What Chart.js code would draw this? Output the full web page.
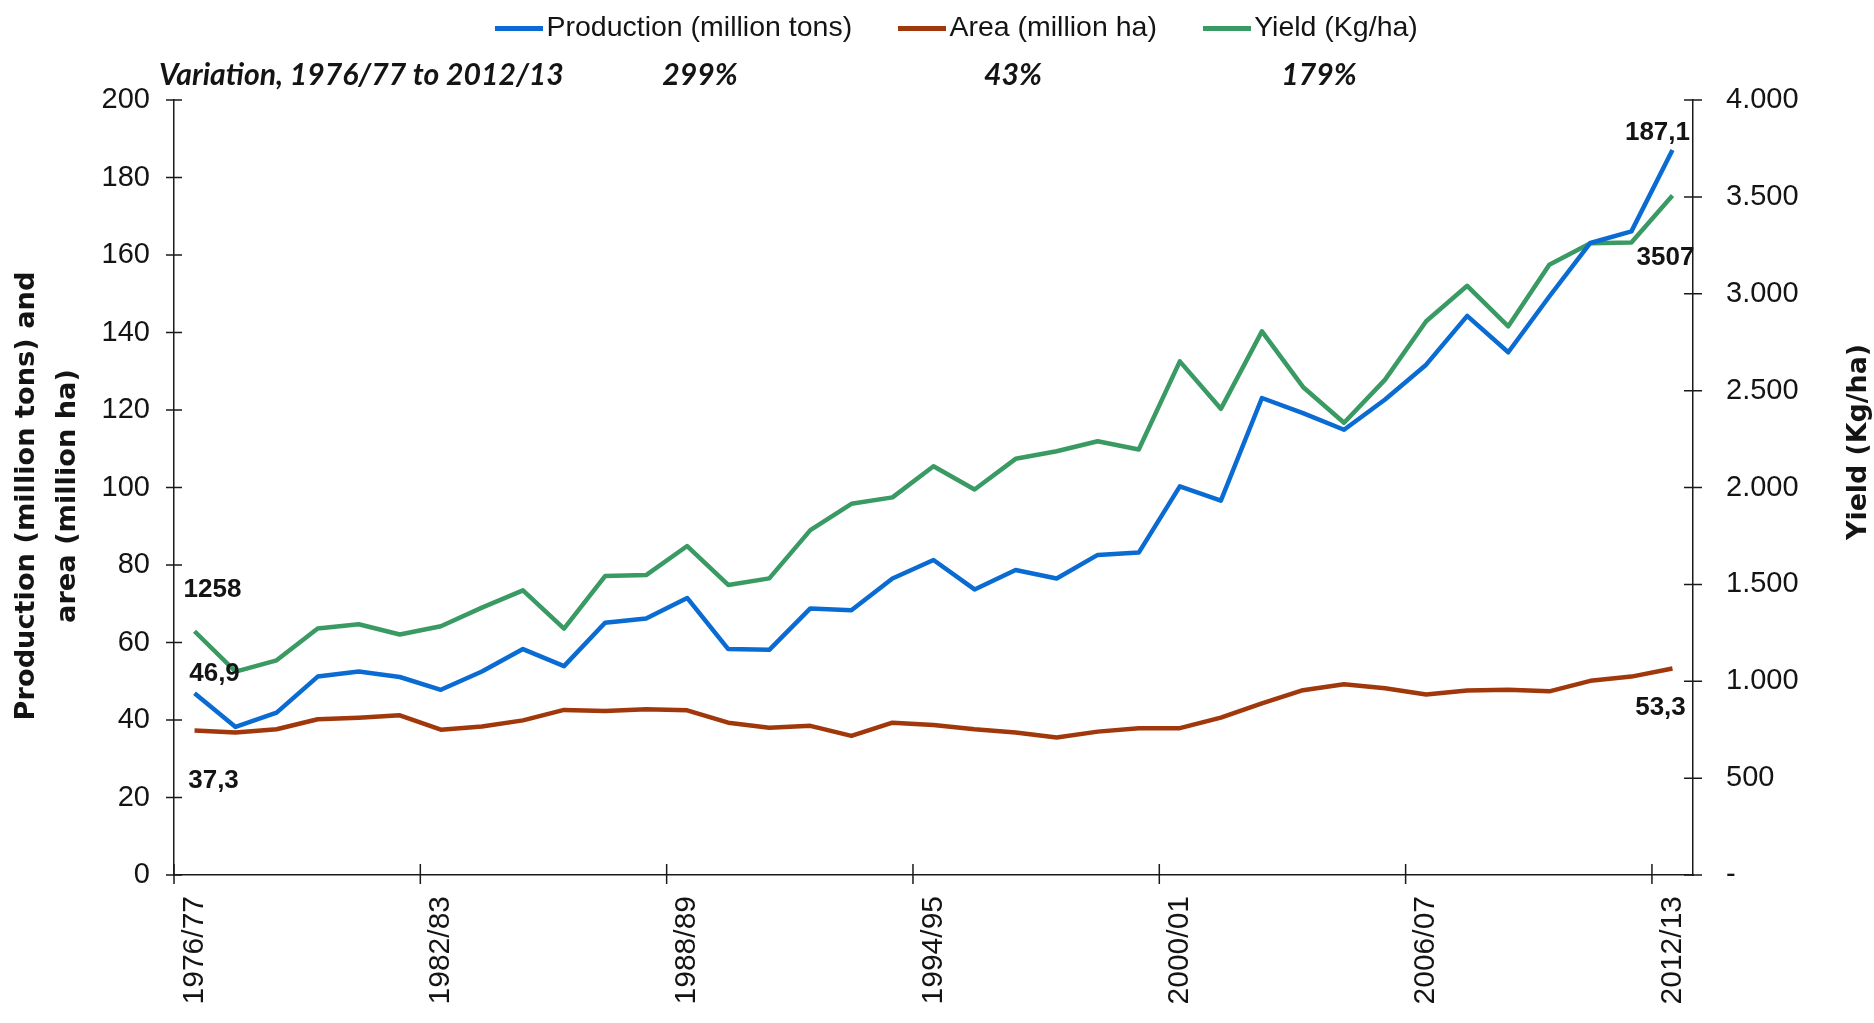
<!DOCTYPE html>
<html>
<head>
<meta charset="utf-8">
<script src="https://cdn.jsdelivr.net/npm/chart.js@4.4.1/dist/chart.umd.min.js"></script>
<style>
html,body{margin:0;padding:0;background:#ffffff;overflow:hidden}
canvas{display:block}
</style>
</head>
<body>
<canvas id="c" width="1874" height="1023" style="width:1874px;height:1023px"></canvas>
<script>
// ---------------- data ----------------
const categories = ['1976/77','1977/78','1978/79','1979/80','1980/81','1981/82','1982/83','1983/84','1984/85','1985/86',
  '1986/87','1987/88','1988/89','1989/90','1990/91','1991/92','1992/93','1993/94','1994/95','1995/96',
  '1996/97','1997/98','1998/99','1999/00','2000/01','2001/02','2002/03','2003/04','2004/05','2005/06',
  '2006/07','2007/08','2008/09','2009/10','2010/11','2011/12','2012/13'];
const production = [46.9, 38.2, 41.9, 51.2, 52.5, 51.1, 47.8, 52.5, 58.3, 53.9,
  65.1, 66.2, 71.5, 58.3, 58.1, 68.8, 68.3, 76.5, 81.3, 73.7,
  78.7, 76.5, 82.6, 83.2, 100.3, 96.6, 123.1, 119.2, 114.9, 122.7,
  131.7, 144.3, 134.9, 149.3, 163.1, 166.1, 187.1];
const area = [37.3, 36.8, 37.6, 40.2, 40.6, 41.2, 37.5, 38.3, 39.9, 42.6,
  42.3, 42.8, 42.5, 39.3, 38.0, 38.5, 35.9, 39.3, 38.7, 37.6,
  36.8, 35.5, 37.0, 37.9, 37.9, 40.6, 44.3, 47.7, 49.2, 48.2,
  46.6, 47.6, 47.8, 47.4, 50.1, 51.2, 53.3];
const yieldKg = [1258, 1050, 1108, 1272, 1294, 1241, 1284, 1380, 1469, 1272,
  1543, 1548, 1698, 1497, 1531, 1780, 1916, 1949, 2110, 1990,
  2148, 2187, 2239, 2196, 2651, 2406, 2806, 2519, 2334, 2557,
  2858, 3041, 2832, 3150, 3261, 3265, 3507];
const seriesNames = ['Production (million tons)', 'Area (million ha)', 'Yield (Kg/ha)'];
const leftAxis = {min: 0, max: 200, step: 20};
const rightAxis = {min: 0, max: 4000, step: 500};
const labelEvery = 6;
const leftTitle = ['Production (million tons) and', 'area (million ha)'];
const rightTitle = 'Yield (Kg/ha)';
const variationTitle = 'Variation, 1976/77 to 2012/13';

// ---------------- styles ----------------
const FONT = "'Liberation Sans', Arial, sans-serif";
const TEXT = '#141414';
const AXIS = '#1a1a1a';
const COLORS = ['#0a6cd3', '#a0380c', '#3a9a63'];

function fmtComma(v) { return String(v).replace('.', ','); }
function fmtThousands(v) {
  if (v === 0) return '-';
  const s = String(Math.round(v));
  return s.length > 3 ? s.slice(0, -3) + '.' + s.slice(-3) : s;
}
function pct(arr) { return Math.round((arr[arr.length - 1] / arr[0] - 1) * 100) + '%'; }
function lineImg(color) {
  const c = document.createElement('canvas');
  c.width = 48; c.height = 5;
  const g = c.getContext('2d');
  g.fillStyle = color; g.fillRect(0, 0, 48, 5);
  return c;
}
function fitSize(ctx, text, target, style, family) {
  ctx.font = style + ' 100px ' + family;
  return 100 * target / ctx.measureText(text).width;
}

// end-point data labels (offsets relative to the point)
const endLabels = [
  {ds: 2, idx: 0, dx: 18, dy: -41},
  {ds: 0, idx: 0, dx: 20, dy: -19},
  {ds: 1, idx: 0, dx: 19, dy: 50},
  {ds: 0, idx: 36, dx: -15, dy: -17},
  {ds: 2, idx: 36, dx: -7, dy: 62},
  {ds: 1, idx: 36, dx: -12, dy: 39}
];

const overlay = {
  id: 'overlay',
  afterDraw(chart) {
    const ctx = chart.ctx;
    const a = chart.chartArea;
    const sx = chart.scales.x, sy = chart.scales.y, sy1 = chart.scales.y1;
    ctx.save();
    // tick marks
    ctx.strokeStyle = AXIS;
    ctx.lineWidth = 1.5;
    ctx.beginPath();
    sy.ticks.forEach(t => {
      const py = sy.getPixelForValue(t.value);
      ctx.moveTo(a.left - 8, py); ctx.lineTo(a.left + 8, py);
    });
    sy1.ticks.forEach(t => {
      const py = sy1.getPixelForValue(t.value);
      ctx.moveTo(a.right - 9, py); ctx.lineTo(a.right + 9, py);
    });
    const step = sx.getPixelForValue(1) - sx.getPixelForValue(0);
    for (let i = 0; i < categories.length; i += labelEvery) {
      const bx = sx.getPixelForValue(i) - step / 2;
      ctx.moveTo(bx, a.bottom - 11); ctx.lineTo(bx, a.bottom + 9);
    }
    ctx.stroke();

    // end-point labels
    ctx.fillStyle = TEXT;
    ctx.font = 'bold 26px ' + FONT;
    ctx.textAlign = 'center';
    ctx.textBaseline = 'middle';
    endLabels.forEach(l => {
      const p = chart.getDatasetMeta(l.ds).data[l.idx];
      const v = chart.data.datasets[l.ds].data[l.idx];
      ctx.fillText(fmtComma(v), p.x + l.dx, p.y + l.dy);
    });

    // axis titles (rotated, reading bottom to top)
    const tFam = "'DejaVu Sans', Verdana, sans-serif";
    const tSize = fitSize(ctx, leftTitle[0], 449, 'bold', tFam);
    ctx.font = 'bold ' + tSize.toFixed(2) + 'px ' + tFam;
    [[leftTitle[0], 27], [leftTitle[1], 68]].forEach(([t, x]) => {
      ctx.save(); ctx.translate(x, 496); ctx.rotate(-Math.PI / 2);
      ctx.fillText(t, 0, 0); ctx.restore();
    });
    const rSize = fitSize(ctx, rightTitle, 196, 'bold', tFam);
    ctx.font = 'bold ' + rSize.toFixed(2) + 'px ' + tFam;
    ctx.save(); ctx.translate(1859, 442); ctx.rotate(-Math.PI / 2);
    ctx.fillText(rightTitle, 0, 0); ctx.restore();

    // variation row
    const vFam = "Lato, 'Open Sans', sans-serif";
    const vSize = fitSize(ctx, variationTitle, 405, 'italic bold', vFam);
    ctx.font = 'italic bold ' + vSize.toFixed(2) + 'px ' + vFam;
    ctx.textAlign = 'left';
    ctx.fillText(variationTitle, 159, 75);
    ctx.textAlign = 'center';
    ctx.fillText(pct(production), 700, 75);
    ctx.fillText(pct(area), 1013, 75);
    ctx.fillText(pct(yieldKg), 1319, 75);
    ctx.restore();
  }
};

const seriesData = [production, area, yieldKg];
const axes = ['y', 'y', 'y1'];

new Chart(document.getElementById('c'), {
  type: 'line',
  data: {
    labels: categories,
    datasets: seriesData.map((d, i) => ({
      label: seriesNames[i],
      data: d,
      yAxisID: axes[i],
      borderColor: COLORS[i],
      backgroundColor: COLORS[i],
      borderWidth: 4.5,
      pointRadius: 0,
      pointHoverRadius: 0,
      tension: 0,
      borderJoinStyle: 'round',
      fill: false
    }))
  },
  options: {
    responsive: false,
    animation: false,
    devicePixelRatio: 1,
    events: [],
    layout: {padding: {left: 50, right: 0, top: -43.25, bottom: 0}},
    plugins: {
      tooltip: {enabled: false},
      subtitle: {
        // empty spacer between the legend and the plot (room for the variation row)
        display: true, text: '', weight: 500, padding: 0,
        font: {size: 47.75, lineHeight: 1}
      },
      legend: {
        display: true,
        position: 'top',
        weight: 1000,
        labels: {
          usePointStyle: true,
          pointStyleWidth: 26,
          padding: 57,
          color: TEXT,
          font: {family: FONT, size: 28.5},
          generateLabels(chart) {
            return chart.data.datasets.map((ds, i) => ({
              text: ds.label,
              fillStyle: ds.borderColor,
              strokeStyle: ds.borderColor,
              lineWidth: 0,
              pointStyle: lineImg(ds.borderColor),
              hidden: false,
              datasetIndex: i,
              fontColor: TEXT
            }));
          }
        }
      }
    },
    scales: {
      x: {
        type: 'category',
        offset: true,
        grid: {display: false, drawTicks: false},
        border: {display: true, color: AXIS, width: 1.5},
        ticks: {
          autoSkip: false, maxRotation: 90, minRotation: 90, padding: 21,
          color: TEXT, font: {family: FONT, size: 30},
          callback: (v, i) => (i % labelEvery === 0 ? categories[i] : null)
        },
        afterFit: s => { s.height = 148; }
      },
      y: {
        position: 'left',
        min: leftAxis.min, max: leftAxis.max,
        grid: {display: false, drawTicks: false},
        border: {display: true, color: AXIS, width: 1.5},
        ticks: {stepSize: leftAxis.step, padding: 24, color: TEXT, font: {family: FONT, size: 29}},
        afterFit: s => { s.width = 124; }
      },
      y1: {
        position: 'right',
        min: rightAxis.min, max: rightAxis.max,
        grid: {display: false, drawTicks: false},
        border: {display: true, color: AXIS, width: 1.5},
        ticks: {stepSize: rightAxis.step, padding: 33, color: TEXT, font: {family: FONT, size: 29},
          callback: v => fmtThousands(v)},
        afterFit: s => { s.width = 181; }
      }
    }
  },
  plugins: [overlay]
});
</script>
</body>
</html>
